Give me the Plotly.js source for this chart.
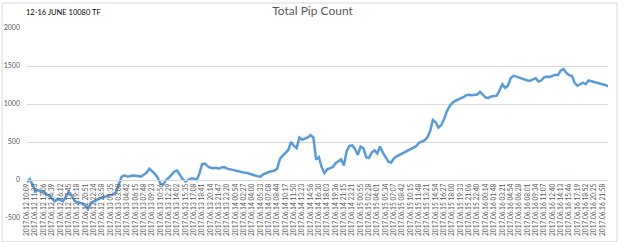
<!DOCTYPE html>
<html>
<head>
<meta charset="utf-8">
<script src="https://cdn.plot.ly/plotly-3.0.1.min.js"></script>
<style>
html,body{margin:0;padding:0;background:#fff;}
#chart{width:625px;height:242px;}
</style>
</head>
<body>
<div id="chart"></div>
<script>
// Category labels shown on the horizontal axis (one every 3 readings)
const tickLabels = [
 "2017.06.12 10:09","2017.06.12 11:33","2017.06.12 13:06","2017.06.12 14:39","2017.06.12 16:12",
 "2017.06.12 17:45","2017.06.12 19:18","2017.06.12 20:51","2017.06.12 22:24","2017.06.12 23:58",
 "2017.06.13 01:35","2017.06.13 03:08","2017.06.13 04:42","2017.06.13 06:15","2017.06.13 07:48",
 "2017.06.13 09:23","2017.06.13 10:56","2017.06.13 12:29","2017.06.13 14:02","2017.06.13 15:35",
 "2017.06.13 17:08","2017.06.13 18:41","2017.06.13 20:14","2017.06.13 21:47","2017.06.13 23:20",
 "2017.06.14 00:54","2017.06.14 02:27","2017.06.14 04:00","2017.06.14 05:33","2017.06.14 07:08",
 "2017.06.14 08:44","2017.06.14 10:17","2017.06.14 11:50","2017.06.14 13:23","2017.06.14 14:56",
 "2017.06.14 16:30","2017.06.14 18:03","2017.06.14 19:36","2017.06.14 21:15","2017.06.14 23:21",
 "2017.06.15 00:55","2017.06.15 02:28","2017.06.15 04:01","2017.06.15 05:34","2017.06.15 07:07",
 "2017.06.15 08:42","2017.06.15 10:15","2017.06.15 11:48","2017.06.15 13:21","2017.06.15 14:54",
 "2017.06.15 16:27","2017.06.15 18:00","2017.06.15 19:33","2017.06.15 21:06","2017.06.15 22:40",
 "2017.06.16 00:14","2017.06.16 01:48","2017.06.16 03:21","2017.06.16 04:54","2017.06.16 06:28",
 "2017.06.16 08:01","2017.06.16 09:34","2017.06.16 11:07","2017.06.16 12:40","2017.06.16 14:13",
 "2017.06.16 15:46","2017.06.16 17:19","2017.06.16 18:52","2017.06.16 20:25","2017.06.16 21:58"
];
const readingsPerLabel = 3;

// Total pip count readings
const pips = [
 -30, 10, -60, -150, -130, -160, -150, -190, -210, -250,
 -280, -250, -270, -280, -220, -160, -200, -270, -290, -300,
 -310, -340, -380, -300, -280, -260, -240, -230, -220, -210,
 -210, -190, -160, -70, 40, 60, 45, 50, 60, 55,
 50, 45, 70, 95, 150, 120, 80, 30, -50, -60,
 0, 30, 70, 110, 125, 70, 10, -20, 0, 20,
 20, 0, 80, 210, 215, 180, 160, 155, 160, 150,
 165, 170, 150, 140, 130, 120, 115, 105, 100, 95,
 80, 70, 60, 50, 45, 75, 95, 105, 115, 125,
 150, 280, 320, 360, 395, 500, 450, 420, 560, 530,
 540, 560, 590, 560, 270, 300, 170, 90, 140, 160,
 170, 220, 250, 270, 190, 380, 450, 455, 410, 330,
 440, 420, 300, 290, 360, 390, 350, 440, 360, 290,
 240, 230, 285, 310, 330, 345, 360, 380, 410, 430,
 445, 490, 510, 520, 560, 640, 790, 760, 690, 720,
 800, 900, 970, 1015, 1040, 1055, 1070, 1090, 1115, 1120,
 1115, 1120, 1125, 1160, 1120, 1085, 1080, 1100, 1105, 1110,
 1180, 1260, 1210, 1240, 1340, 1370, 1360, 1345, 1330, 1320,
 1310, 1305, 1325, 1340, 1295, 1310, 1350, 1360, 1355, 1375,
 1385, 1380, 1440, 1460, 1410, 1380, 1370, 1280, 1240, 1260,
 1280, 1260, 1310, 1300, 1290, 1285, 1275, 1270, 1250, 1230
];

const yTicks = [-500, 0, 500, 1000, 1500, 2000];

const idx = pips.map((_, i) => i);
const tickvals = tickLabels.map((_, k) => k * readingsPerLabel);

const trace = {
  type: 'scatter', mode: 'lines',
  x: idx, y: pips,
  line: {color: '#5B9BD5', width: 2.5},
  hoverinfo: 'skip'
};

const layout = {
  width: 625, height: 242,
  margin: {l: 27, r: 17, t: 28, b: 24, pad: 0},
  paper_bgcolor: '#ffffff', plot_bgcolor: '#ffffff',
  showlegend: false,
  font: {family: 'Lato, "Open Sans", sans-serif', color: '#595959'},
  title: {text: 'Total Pip Count', x: 0.5, xanchor: 'center', y: 0.955, yanchor: 'middle',
          font: {size: 12, color: '#595959', family: 'Lato, "Open Sans", sans-serif'}},
  xaxis: {
    range: [0, pips.length - 1],
    tickmode: 'array', tickvals: tickvals, ticktext: tickLabels,
    tickangle: -90, tickfont: {size: 6.6, color: '#595959'},
    showgrid: false, zeroline: false,
    showline: true, linecolor: '#d9d9d9', linewidth: 1,
    anchor: 'free', position: 0.2, ticks: '', ticklen: 0,
    fixedrange: true
  },
  yaxis: {
    range: [-500, 2000],
    tickmode: 'array', tickvals: yTicks, ticktext: yTicks.map(String),
    tickfont: {size: 7, color: '#595959'},
    showgrid: true, gridcolor: '#d9d9d9', gridwidth: 1,
    zeroline: false, showline: false, ticks: '', ticklabelstandoff: 6,
    fixedrange: true
  },
  annotations: [{
    text: '12-16 JUNE 10080 TF', xref: 'paper', yref: 'paper',
    x: -0.005, y: 1.08, xanchor: 'left', yanchor: 'middle', showarrow: false,
    font: {size: 7.5, color: '#000000', family: 'Lato, "Open Sans", sans-serif'}
  }],
  shapes: [{
    type: 'rect', xref: 'paper', yref: 'paper',
    x0: -0.043, x1: 1.0155, y0: -0.125, y1: 1.1316,
    line: {color: '#d9d9d9', width: 1}, fillcolor: 'rgba(0,0,0,0)', layer: 'below'
  }]
};

Plotly.newPlot('chart', [trace], layout, {staticPlot: true, displayModeBar: false});
</script>
</body>
</html>
